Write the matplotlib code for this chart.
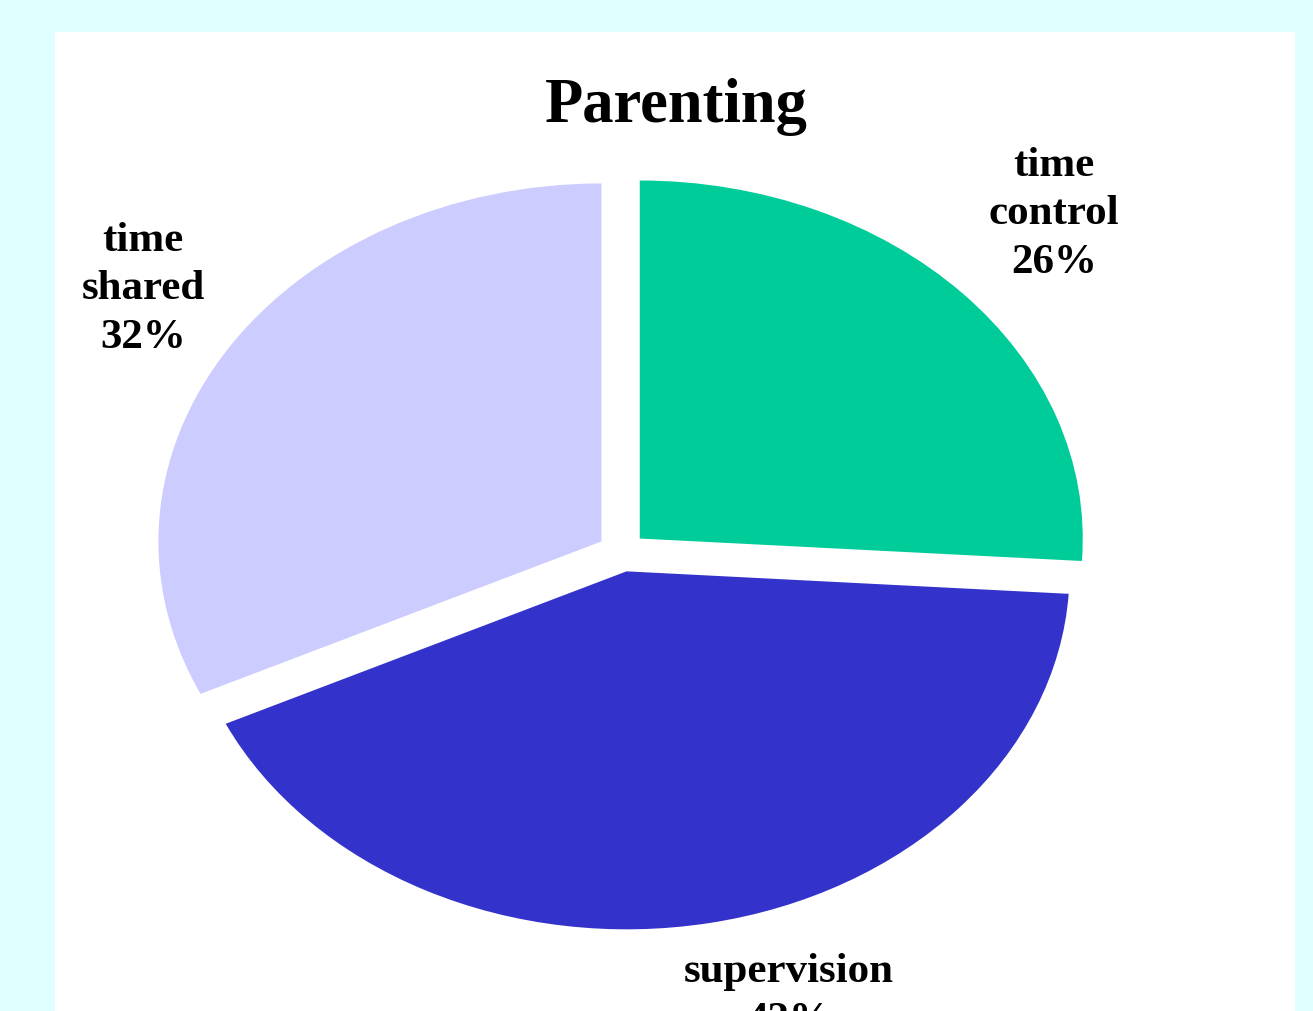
import matplotlib.pyplot as plt

# data
labels = ["time\ncontrol", "supervision", "time\nshared"]
values = [26, 42, 32]
colors = ["#00CC99", "#3333CC", "#CCCCFF"]

W, H = 1313, 1012
fig = plt.figure(figsize=(W / 100., H / 100.), dpi=100)
fig.patch.set_facecolor("#E0FFFF")

# white slide panel
px0, px1, py0 = 55, 1295, 33
ax = fig.add_axes([px0 / W, 0, (px1 - px0) / W, (H - py0) / H])

wedges, _ = ax.pie(values, colors=colors, startangle=90, counterclock=False,
                   explode=[0.055] * len(values), radius=1.0)

# elliptical pie (stretched slide)
cx, cy = 622., 553.   # pie centre, px
rx, ry = 443., 358.   # radii, px
ax.set_aspect("auto")
ax.set_xlim((px0 - cx) / rx, (px1 - cx) / rx)
ax.set_ylim((cy - H) / ry, (cy - py0) / ry)
ax.set_frame_on(True)
for s in ax.spines.values():
    s.set_visible(False)
ax.set_facecolor("white")

font = ["Liberation Serif", "DejaVu Serif"]
fig.text(676 / W, 1 - 122 / H, "Parenting", family=font, weight="bold",
         fontsize=45, ha="center", va="baseline")

# label anchors (centre x, last baseline y) in px; the supervision
# percentage runs off the slide bottom as in the original
label_pos = [(1054, 273), (789, 1031), (143, 348)]
for lab, v, (lx, ly) in zip(labels, values, label_pos):
    fig.text(lx / W, 1 - ly / H, "%s\n%d%%" % (lab, v), family=font,
             weight="bold", fontsize=31, ha="center", va="baseline",
             linespacing=1.37, multialignment="center")

fig.savefig("out.png", dpi=100, facecolor=fig.get_facecolor())
